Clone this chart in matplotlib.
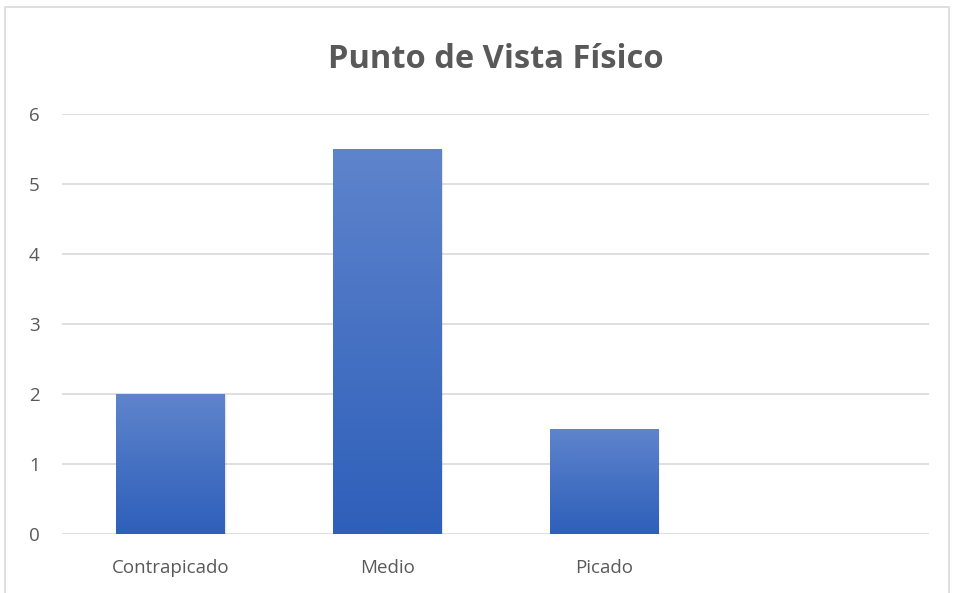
import matplotlib
matplotlib.use("Agg")
import matplotlib.pyplot as plt
import numpy as np
from matplotlib.patches import Rectangle
from matplotlib.colors import LinearSegmentedColormap

categories = ["Contrapicado", "Medio", "Picado", ""]
values = [2, 5.5, 1.5, None]
yticks = [0, 1, 2, 3, 4, 5, 6]
title = "Punto de Vista Físico"

plt.rcParams['font.family'] = ['Open Sans', 'DejaVu Sans']

W, H = 958, 593
fig = plt.figure(figsize=(W / 100, H / 100), dpi=100)
fig.patch.set_facecolor("white")

# chart border
fig.add_artist(Rectangle((5 / W, -0.01), (949 - 5) / W, 1 - 7 / H + 0.01, transform=fig.transFigure,
                         fill=False, edgecolor="#d9d9d9", linewidth=1.2))

ax = fig.add_axes([62 / W, 1 - 534 / H, (929 - 62) / W, (534 - 114) / H])
for s in ax.spines.values():
    s.set_visible(False)
ax.set_yticks(yticks)
ax.yaxis.grid(True, color="#d9d9d9", linewidth=1.2)
ax.set_axisbelow(True)
ax.tick_params(axis="both", length=0, labelsize=13.5, labelcolor="#595959")
ax.tick_params(axis="y", pad=16)
ax.tick_params(axis="x", pad=18)
ax.set_xticks(range(len(categories)))
ax.set_xticklabels(categories)

grad = np.linspace(0, 1, 256).reshape(-1, 1)
cmap = LinearSegmentedColormap.from_list("g", ["#2e5fba", "#5e84cc"])
bw = 0.5
for i, v in enumerate(values):
    if v is None:
        continue
    for k, a in [(3, 0.04), (2, 0.06), (1, 0.08)]:
        r = Rectangle((i - bw / 2 + 0.003 * k, -0.006 * k), bw, v, facecolor="#000000",
                      alpha=a, edgecolor="none", zorder=2)
        ax.add_patch(r)
    rect = Rectangle((i - bw / 2, 0), bw, v, facecolor="none", edgecolor="none", zorder=3)
    ax.add_patch(rect)
    im = ax.imshow(grad, extent=(i - bw / 2, i + bw / 2, 0, v), origin="lower",
                   cmap=cmap, aspect="auto", zorder=3)
    im.set_clip_path(rect)

ax.set_xlim(-0.5, len(categories) - 0.5)
ax.set_ylim(0, 6)

fig.text((62 + 929) / 2 / W, 1 - 68 / H, title, ha="center", va="baseline",
         fontsize=23.5, fontweight="bold", color="#595959")

fig.savefig("out.png", dpi=100)
